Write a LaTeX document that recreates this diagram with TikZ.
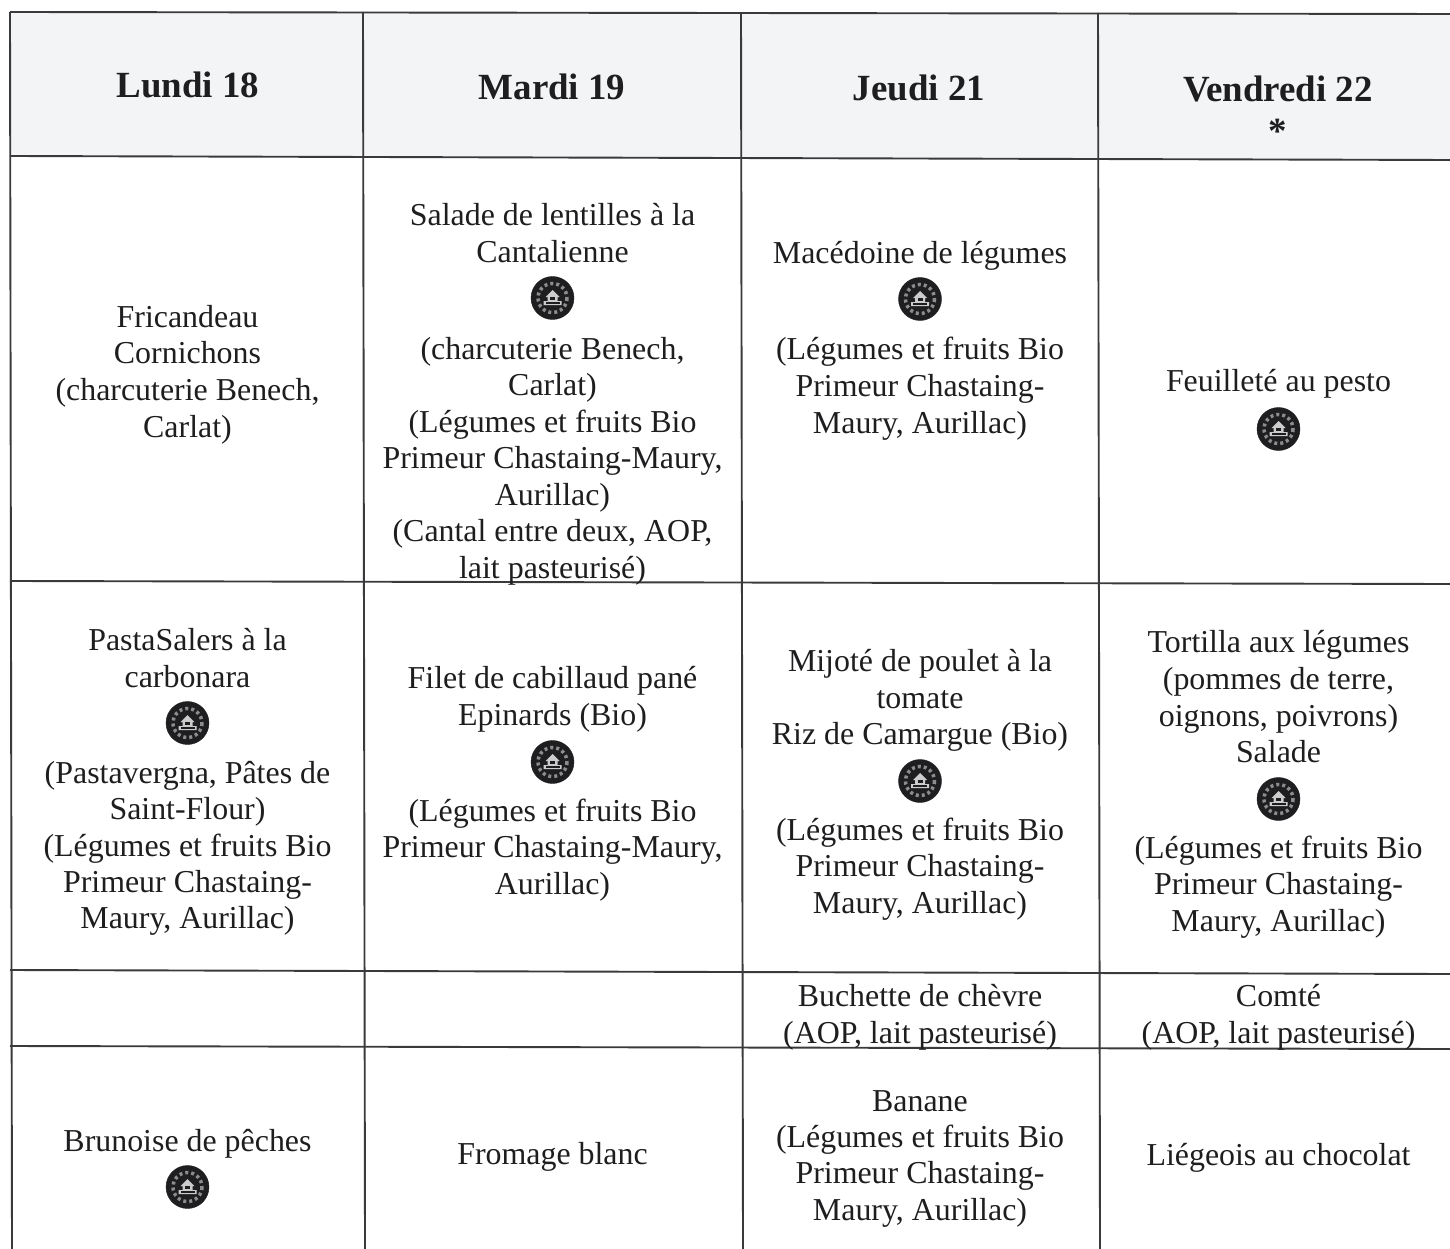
\documentclass[tikz,border=0pt]{standalone}
\usepackage{fontspec}
\setmainfont{Liberation Serif}
\definecolor{ink}{HTML}{1E1E20}
\definecolor{rule}{HTML}{3A3A3C}
\definecolor{headbg}{HTML}{F3F4F5}
\newcounter{cellline}
\tikzset{
  body/.style={anchor=base,inner sep=0pt,text=ink,font=\fontsize{31.9}{36}\selectfont},
  headtext/.style={anchor=base,inner sep=0pt,text=ink,font=\fontsize{36.9}{40}\selectfont\bfseries},
  gridline/.style={draw=rule,line width=1.9pt},
  emblemdisc/.style={circle,fill=ink,draw=ink,minimum size=43pt,inner sep=0pt}
}
% one printed line: x, centre y, text
\newcommand{\cl}[3]{\stepcounter{cellline}\node[body] (t\arabic{cellline}) at (#1,#2+11) {#3};}
\newcommand{\hd}[3]{\stepcounter{cellline}\node[headtext] (t\arabic{cellline}) at (#1,#2+13) {#3};}
\newcommand{\emb}[2]{\stepcounter{cellline}
  \node[emblemdisc] (e\arabic{cellline}) at (#1,#2) {};
  \begin{scope}[shift={(#1,#2)}]
    \draw[white!55!black,line width=3.5pt,dash pattern=on 3pt off 3pt] (0,0) circle (14.5);
    \fill[white!80!black] (-7,-1) -- (0,-8) -- (7,-1) -- (5,-1) -- (5,3) -- (9,3) -- (9,7) -- (-9,7) -- (-9,3) -- (-5,3) -- (-5,-1) -- cycle;
    \fill[ink] (-2.5,-1) rectangle (2.5,2);
    \fill[ink] (-7,4.4) rectangle (7,5.6);
  \end{scope}}
\begin{document}
\begin{tikzpicture}[x=1pt,y=-1pt]
\useasboundingbox (0,0) rectangle (1450,1249);
\fill[white] (0,0) rectangle (1450,1249);
\fill[headbg] (10,12) -- (1450,14) -- (1450,160) -- (10,156) -- cycle;
% horizontal rules
\draw[gridline] (10,12) -- (1450,14);
\draw[gridline] (10,156) -- (1450,160);
\draw[gridline] (10,581) -- (1450,584);
\draw[gridline] (10,970) -- (1450,974);
\draw[gridline] (10,1046) -- (1450,1049);
% vertical rules
\draw[gridline] (10,12) -- (12,1249);
\draw[gridline] (363,12) -- (365,1249);
\draw[gridline] (741,13) -- (743,1249);
\draw[gridline] (1098,13) -- (1100,1249);
% headers
\hd{188}{85}{Lundi 18}
\hd{552}{87}{Mardi 19}
\hd{919}{88}{Jeudi 21}
\hd{1278}{89}{Vendredi 22}
\hd{1278}{131}{*}
% column 1
\def\X{187.5}
\cl{\X}{316}{Fricandeau}
\cl{\X}{352}{Cornichons}
\cl{\X}{389}{(charcuterie Benech,}
\cl{\X}{426}{Carlat)}
\cl{\X}{639}{PastaSalers à la}
\cl{\X}{676}{carbonara}
\emb{\X}{723}
\cl{\X}{772}{(Pastavergna, Pâtes de}
\cl{\X}{808}{Saint-Flour)}
\cl{\X}{845}{(Légumes et fruits Bio}
\cl{\X}{881}{Primeur Chastaing-}
\cl{\X}{917}{Maury, Aurillac)}
\cl{\X}{1140}{Brunoise de pêches}
\emb{\X}{1187}
% column 2
\def\X{552.5}
\cl{\X}{215}{Salade de lentilles à la}
\cl{\X}{251}{Cantalienne}
\emb{\X}{298}
\cl{\X}{348}{(charcuterie Benech,}
\cl{\X}{384}{Carlat)}
\cl{\X}{421}{(Légumes et fruits Bio}
\cl{\X}{457}{Primeur Chastaing-Maury,}
\cl{\X}{494}{Aurillac)}
\cl{\X}{530}{(Cantal entre deux, AOP,}
\cl{\X}{567}{lait pasteurisé)}
\cl{\X}{677}{Filet de cabillaud pané}
\cl{\X}{714}{Epinards (Bio)}
\emb{\X}{762}
\cl{\X}{810}{(Légumes et fruits Bio}
\cl{\X}{846}{Primeur Chastaing-Maury,}
\cl{\X}{883}{Aurillac)}
\cl{\X}{1153}{Fromage blanc}
% column 3
\def\X{920}
\cl{\X}{252}{Macédoine de légumes}
\emb{\X}{299}
\cl{\X}{348}{(Légumes et fruits Bio}
\cl{\X}{385}{Primeur Chastaing-}
\cl{\X}{422}{Maury, Aurillac)}
\cl{\X}{660}{Mijoté de poulet à la}
\cl{\X}{697}{tomate}
\cl{\X}{733}{Riz de Camargue (Bio)}
\emb{\X}{781}
\cl{\X}{829}{(Légumes et fruits Bio}
\cl{\X}{865}{Primeur Chastaing-}
\cl{\X}{902}{Maury, Aurillac)}
\cl{\X}{995}{Buchette de chèvre}
\cl{\X}{1032}{(AOP, lait pasteurisé)}
\cl{\X}{1100}{Banane}
\cl{\X}{1136}{(Légumes et fruits Bio}
\cl{\X}{1172}{Primeur Chastaing-}
\cl{\X}{1209}{Maury, Aurillac)}
% column 4
\def\X{1278.5}
\cl{\X}{380}{Feuilleté au pesto}
\emb{\X}{429}
\cl{\X}{641}{Tortilla aux légumes}
\cl{\X}{678}{(pommes de terre,}
\cl{\X}{715}{oignons, poivrons)}
\cl{\X}{751}{Salade}
\emb{\X}{799}
\cl{\X}{847}{(Légumes et fruits Bio}
\cl{\X}{883}{Primeur Chastaing-}
\cl{\X}{920}{Maury, Aurillac)}
\cl{\X}{995}{Comté}
\cl{\X}{1032}{(AOP, lait pasteurisé)}
\cl{\X}{1154}{Liégeois au chocolat}
\end{tikzpicture}
\end{document}
